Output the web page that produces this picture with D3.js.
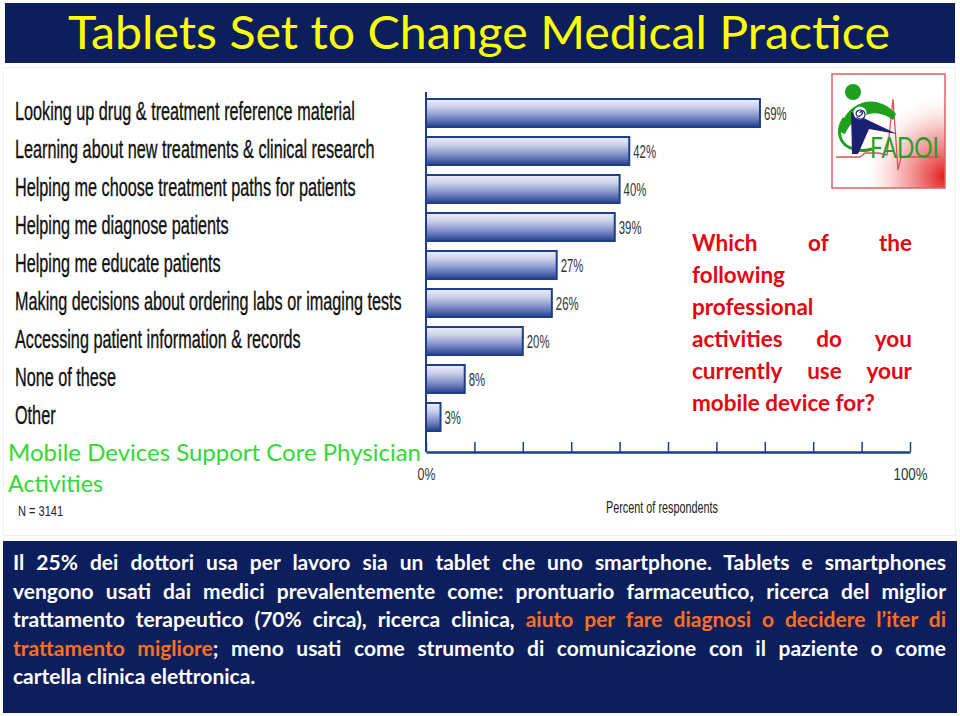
<!DOCTYPE html>
<html><head><meta charset="utf-8">
<script src="https://cdn.jsdelivr.net/npm/d3@7"></script>
<style>html,body{margin:0;padding:0;background:#fff;} svg{display:block;} text{white-space:pre;}</style>
</head><body>
<svg id="c" width="960" height="716"></svg>
<script>
// ---------- DATA ----------
const categories = [
  "Looking up drug & treatment reference material",
  "Learning about new treatments & clinical research",
  "Helping me choose treatment paths for patients",
  "Helping me diagnose patients",
  "Helping me educate patients",
  "Making decisions about ordering labs or imaging tests",
  "Accessing patient information & records",
  "None of these",
  "Other"
];
const values = [69, 42, 40, 39, 27, 26, 20, 8, 3];
const xTickValues = [0, 10, 20, 30, 40, 50, 60, 70, 80, 90, 100];
const xTickLabels = ["0%", "", "", "", "", "", "", "", "", "", "100%"];
const titleText = "Tablets Set to Change Medical Practice";
const subtitleLines = ["Mobile Devices Support Core Physician", "Activities"];
const questionLines = ["Which of the", "following", "professional", "activities do you", "currently use your", "mobile device for?"];
const questionJustify = [true, false, false, true, true, false];
const sampleNote = "N = 3141";
const axisTitle = "Percent of respondents";
const noteLines = [
  [{t: "Il 25% dei dottori usa per lavoro sia un tablet che uno smartphone. Tablets e smartphones", c: "w"}],
  [{t: "vengono usati dai medici prevalentemente come: prontuario farmaceutico, ricerca del miglior", c: "w"}],
  [{t: "trattamento terapeutico (70% circa), ricerca clinica, ", c: "w"}, {t: "aiuto per fare diagnosi o decidere l\u2019iter di", c: "o"}],
  [{t: "trattamento migliore", c: "o"}, {t: "; meno usati come strumento di comunicazione con il paziente o come", c: "w"}],
  [{t: "cartella clinica elettronica.", c: "w"}]
];
const noteJustify = [true, true, true, true, false];

// ---------- STYLE ----------
const NAVY = "#0c1f5c";
const BAR_BLUE = "#1c3f86";
const narrowFont = "'Liberation Sans Narrow','Arial Narrow','Liberation Sans',Arial,sans-serif";
const calibriLike = "Lato,'Open Sans','Noto Sans',sans-serif";

const svg = d3.select("#c");
const defs = svg.append("defs");

const grad = defs.append("linearGradient").attr("id", "barGrad").attr("x1", 0).attr("y1", 0).attr("x2", 0).attr("y2", 1);
[[0, "#eef0f9"], [0.3, "#c8cfe9"], [0.7, "#7181bf"], [1, "#23408f"]].forEach(([o, c]) =>
  grad.append("stop").attr("offset", o).attr("stop-color", c));

const rg = defs.append("radialGradient").attr("id", "logoRed").attr("cx", 1).attr("cy", 0.9).attr("r", 0.75);
rg.append("stop").attr("offset", 0).attr("stop-color", "#e01010").attr("stop-opacity", 0.95);
rg.append("stop").attr("offset", 0.55).attr("stop-color", "#e84040").attr("stop-opacity", 0.35);
rg.append("stop").attr("offset", 1).attr("stop-color", "#ffffff").attr("stop-opacity", 0);

// ---------- TITLE BAR ----------
svg.append("rect").attr("x", 5).attr("y", 3).attr("width", 950).attr("height", 60).attr("fill", NAVY);
svg.append("text").attr("x", 68).attr("y", 49)
  .attr("font-family", calibriLike).attr("font-size", 47).attr("fill", "#ffff00")
  .attr("textLength", 822).attr("lengthAdjust", "spacingAndGlyphs")
  .text(titleText);

// chart panel faint border
svg.append("rect").attr("x", 3.5).attr("y", 67.5).attr("width", 952).attr("height", 468)
  .attr("fill", "none").attr("stroke", "#efefef");

// ---------- SCALES ----------
const x = d3.scaleLinear().domain([0, 100]).range([426, 910]);
const y = d3.scaleBand().domain(categories).range([94, 436]).paddingInner(10 / 38).paddingOuter(5 / 38);

// ---------- BARS ----------
svg.append("g").selectAll("rect").data(categories).join("rect")
  .attr("x", x(0))
  .attr("y", d => y(d))
  .attr("width", (d, i) => x(values[i]) - x(0))
  .attr("height", y.bandwidth())
  .attr("fill", "url(#barGrad)")
  .attr("stroke", BAR_BLUE).attr("stroke-width", 2);

// y axis line
svg.append("line").attr("x1", x(0)).attr("x2", x(0)).attr("y1", 92).attr("y2", 452)
  .attr("stroke", BAR_BLUE).attr("stroke-width", 2);

// category labels
const labels = svg.append("g").selectAll("text").data(categories).join("text")
  .attr("font-family", narrowFont).attr("font-size", 25).attr("fill", "#111")
  .attr("stroke", "#111").attr("stroke-width", 0.35)
  .text(d => d);
const w0 = labels.nodes()[0].getComputedTextLength();
const k = 340 / w0;
labels.attr("transform", d => `translate(15,${y(d) + y.bandwidth() / 2 + 6.5}) scale(${k},1)`);

// value labels
svg.append("g").selectAll("text").data(categories).join("text")
  .attr("font-family", narrowFont).attr("font-size", 17.5).attr("fill", "#333")
  .attr("transform", (d, i) => `translate(${x(values[i]) + 4},${y(d) + y.bandwidth() / 2 + 6.5}) scale(${k},1)`)
  .text((d, i) => values[i] + "%");

// x axis
const xAxis = d3.axisBottom(x).tickValues(xTickValues)
  .tickSizeInner(-10).tickSizeOuter(0).tickPadding(17)
  .tickFormat((d, i) => xTickLabels[i]);
const gx = svg.append("g").attr("transform", "translate(0,452)").call(xAxis);
gx.select(".domain").attr("stroke", BAR_BLUE).attr("stroke-width", 2.5);
gx.selectAll(".tick line").attr("stroke", BAR_BLUE).attr("stroke-width", 1.5);
gx.selectAll(".tick text").attr("font-family", narrowFont).attr("font-size", 16).attr("fill", "#333")
  .each(function (d, i) {
    const t = d3.select(this);
    if (xTickLabels[i]) t.attr("textLength", xTickLabels[i].length > 2 ? 34 : 18).attr("lengthAdjust", "spacingAndGlyphs");
  });

svg.append("text").attr("x", 662).attr("y", 513).attr("text-anchor", "middle")
  .attr("font-family", narrowFont).attr("font-size", 16).attr("fill", "#222")
  .attr("textLength", 112).attr("lengthAdjust", "spacingAndGlyphs").text(axisTitle);

svg.append("text").attr("x", 18).attr("y", 516)
  .attr("font-family", narrowFont).attr("font-size", 15).attr("fill", "#222")
  .attr("textLength", 45).attr("lengthAdjust", "spacingAndGlyphs").text(sampleNote);

// green subtitle
svg.append("text").attr("x", 8).attr("y", 461)
  .attr("font-family", calibriLike).attr("font-size", 24).attr("fill", "#33d933")
  .attr("textLength", 413).attr("lengthAdjust", "spacingAndGlyphs").text(subtitleLines[0]);
svg.append("text").attr("x", 8).attr("y", 492)
  .attr("font-family", calibriLike).attr("font-size", 24).attr("fill", "#33d933")
  .attr("textLength", 95).attr("lengthAdjust", "spacingAndGlyphs").text(subtitleLines[1]);

// ---------- justify helper ----------
function drawLine(g, runs, x0, x1, yb, justify, style) {
  const t = g.append("text").attr("x", x0).attr("y", yb)
    .attr("font-family", style.font).attr("font-size", style.size).attr("font-weight", style.weight);
  runs.forEach(r => t.append("tspan").attr("fill", style.colors[r.c]).text(r.t));
  const w = t.node().getComputedTextLength();
  const target = x1 - x0;
  const txt = runs.map(r => r.t).join("");
  const nSp = (txt.match(/ /g) || []).length;
  if (justify && w <= target) {
    if (nSp > 0) t.attr("word-spacing", (target - w) / nSp);
  } else if (w > target) {
    t.attr("textLength", target).attr("lengthAdjust", "spacingAndGlyphs");
  }
  return t;
}

// red question
const qg = svg.append("g");
questionLines.forEach((l, i) => {
  drawLine(qg, [{t: l, c: "r"}], 692, 912, 251 + i * 32, questionJustify[i],
    {font: calibriLike, size: 22.5, weight: 700, colors: {r: "#e30613"}});
});

// ---------- BOTTOM NOTE ----------
svg.append("rect").attr("x", 3).attr("y", 541).attr("width", 954).attr("height", 172).attr("fill", NAVY);
const ng = svg.append("g");
const noteBase = [570, 599, 627, 656, 684];
noteLines.forEach((runs, i) => {
  drawLine(ng, runs, 13, 946, noteBase[i], noteJustify[i],
    {font: calibriLike, size: 21, weight: 700, colors: {w: "#ffffff", o: "#ff6f1e"}});
});

// ---------- LOGO ----------
const lg = svg.append("g").attr("transform", "translate(832,74)");
lg.append("rect").attr("width", 113).attr("height", 114).attr("fill", "#fff");
lg.append("rect").attr("width", 113).attr("height", 114).attr("fill", "url(#logoRed)");
lg.append("path").attr("d", "M4,83 L28,83 L33,79 L46,79 L55,81 L61,25 L66,96 L69,83 L109,83")
  .attr("fill", "none").attr("stroke", "#e05050").attr("stroke-width", 1.3);
lg.append("path").attr("d", "M12,44 C3,58 8,72 22,75 C28,77 34,77 40,75")
  .attr("fill", "none").attr("stroke", "#1ea01e").attr("stroke-width", 3);
lg.append("path").attr("d", "M8,58 C9,44 18,33 30,29 C42,25 55,30 64,40 L61,46 C53,40 45,38 37,40 C26,43 17,50 13,60 Z")
  .attr("fill", "#1ea01e");
lg.append("path").attr("d", "M19,38 L65,60 L37,55 L26,80 L20,80 Z").attr("fill", "#1b2170");
lg.append("circle").attr("cx", 21).attr("cy", 18).attr("r", 8).attr("fill", "#1ea01e");
lg.append("circle").attr("cx", 28).attr("cy", 39).attr("r", 6.5).attr("fill", "#fff");
lg.append("path").attr("d", "M28,39 a1.3,1.3 0 1 1 1.6,1.1 a2.8,2.8 0 1 1 -3.8,-3.2 a4.5,4.5 0 1 1 -1.2,5.8")
  .attr("fill", "none").attr("stroke", "#1b2170").attr("stroke-width", 1.2);
lg.append("text").attr("x", 38).attr("y", 84)
  .attr("font-family", calibriLike).attr("font-size", 28).attr("fill", "#23a023")
  .attr("textLength", 69).attr("lengthAdjust", "spacingAndGlyphs").text("FADOI");
lg.append("rect").attr("width", 113).attr("height", 114).attr("fill", "none")
  .attr("stroke", "#e06060").attr("stroke-width", 1.5);
</script>
</body></html>
